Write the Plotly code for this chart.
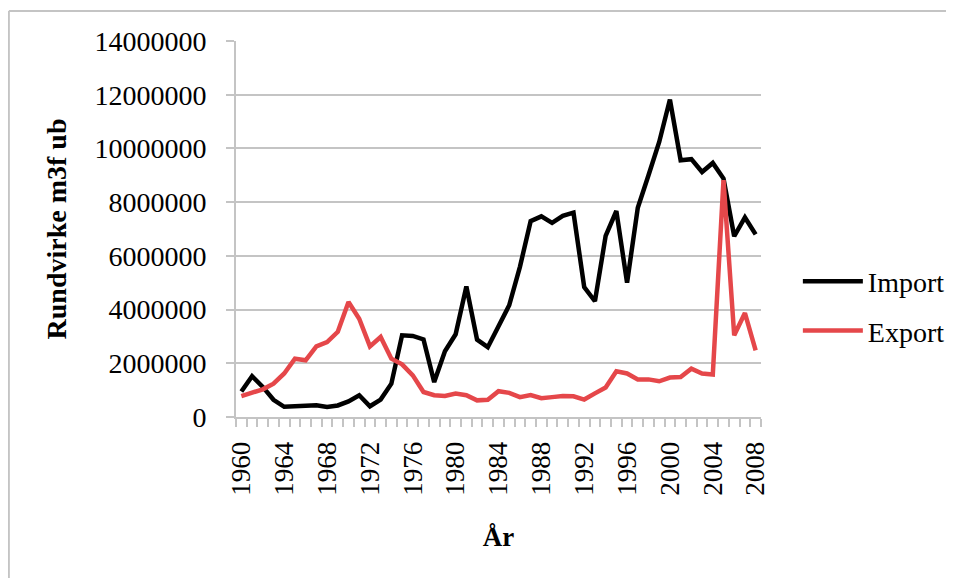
import plotly.graph_objects as go

years = list(range(1960, 2009))
import_vals = [950000, 1520000, 1120000, 640000, 380000, 420000, 420000, 440000, 370000, 430000,
               580000, 810000, 400000, 650000, 1240000, 3040000, 3020000, 2890000, 1300000, 2450000,
               3080000, 4860000, 2880000, 2600000, 3380000, 4160000, 5590000, 7290000, 7470000, 7230000,
               7490000, 7610000, 4840000, 4310000, 6740000, 7670000, 5000000, 7790000, 9000000, 10240000,
               11820000, 9560000, 9600000, 9120000, 9460000, 8880000, 6730000, 7430000, 6800000]
export_vals = [780000, 910000, 1030000, 1240000, 1620000, 2170000, 2110000, 2630000, 2790000, 3170000,
               4280000, 3660000, 2630000, 2980000, 2170000, 1960000, 1550000, 930000, 810000, 780000,
               870000, 810000, 620000, 640000, 960000, 900000, 740000, 820000, 700000, 740000,
               780000, 770000, 650000, 880000, 1100000, 1700000, 1620000, 1400000, 1400000, 1330000,
               1470000, 1490000, 1800000, 1620000, 1580000, 8820000, 3040000, 3870000, 2480000]
series_names = ["Import", "Export"]
x_tick_labels = [str(y) for y in range(1960, 2009, 4)]
y_ticks = list(range(0, 14000001, 2000000))

# the page body adds an 8px offset, so targets are shifted by -8
OFF = 8
W, H = 954, 578
L, R, T, B = 236 - OFF, 763 - OFF, 41 - OFF, 417 - OFF

def px(x):
    return (x - OFF - L) / (R - L)

def py(y):
    return (B - (y - OFF)) / (B - T)

FONT = "Liberation Serif"
GRID = "#c4c4c4"

fig = go.Figure()
fig.add_trace(go.Scatter(x=years, y=import_vals, mode="lines", name=series_names[0],
                         legendgroup="a",
                         line=dict(color="#000000", width=4.5)))
fig.add_trace(go.Scatter(x=years, y=export_vals, mode="lines", name=series_names[1],
                         legendgroup="b",
                         line=dict(color="#e5474a", width=4.5)))

fig.update_layout(
    width=W, height=H,
    margin=dict(l=L, r=W - R, t=T, b=H - B, pad=0),
    paper_bgcolor="white", plot_bgcolor="white",
    font=dict(family=FONT, color="black", size=26),
    showlegend=True,
    legend=dict(x=px(800), xanchor="left", y=py(306), yanchor="middle",
                font=dict(family=FONT, size=28), tracegroupgap=10, itemwidth=60,
                bgcolor="rgba(0,0,0,0)", traceorder="grouped"),
    xaxis=dict(
        range=[1959.5, 2008.5],
        tickmode="array", tickvals=[int(t) for t in x_tick_labels], ticktext=x_tick_labels,
        tickangle=-90, ticks="", ticklabelstandoff=12,
        tickfont=dict(family=FONT, size=27),
        showgrid=False, zeroline=False,
        showline=True, linecolor=GRID, linewidth=2,
        minor=dict(tick0=1959.5, dtick=1, ticks="outside", ticklen=8, tickcolor=GRID,
                   tickwidth=2, showgrid=False),
        title=dict(text="<b>År</b>", font=dict(family=FONT, size=27), standoff=32),
    ),
    yaxis=dict(
        range=[0, 14000000], tickmode="array", tickvals=y_ticks,
        tickformat="d", ticks="outside", ticklen=8, tickcolor=GRID, tickwidth=2,
        ticklabelstandoff=14,
        tickfont=dict(family=FONT, size=28),
        showgrid=True, gridcolor=GRID, gridwidth=2, zeroline=False,
        showline=True, linecolor=GRID, linewidth=2,
        title=dict(text="<b>Rundvirke m3f ub</b>", font=dict(family=FONT, size=28), standoff=20),
    ),
    shapes=[
        dict(type="line", xref="paper", yref="paper", x0=px(8), x1=px(954), y0=py(11), y1=py(11),
             line=dict(color=GRID, width=2)),
        dict(type="line", xref="paper", yref="paper", x0=px(8), x1=px(8), y0=py(11), y1=py(578),
             line=dict(color=GRID, width=2)),
    ],
)

fig.write_html("out.html", config={"displayModeBar": False})
